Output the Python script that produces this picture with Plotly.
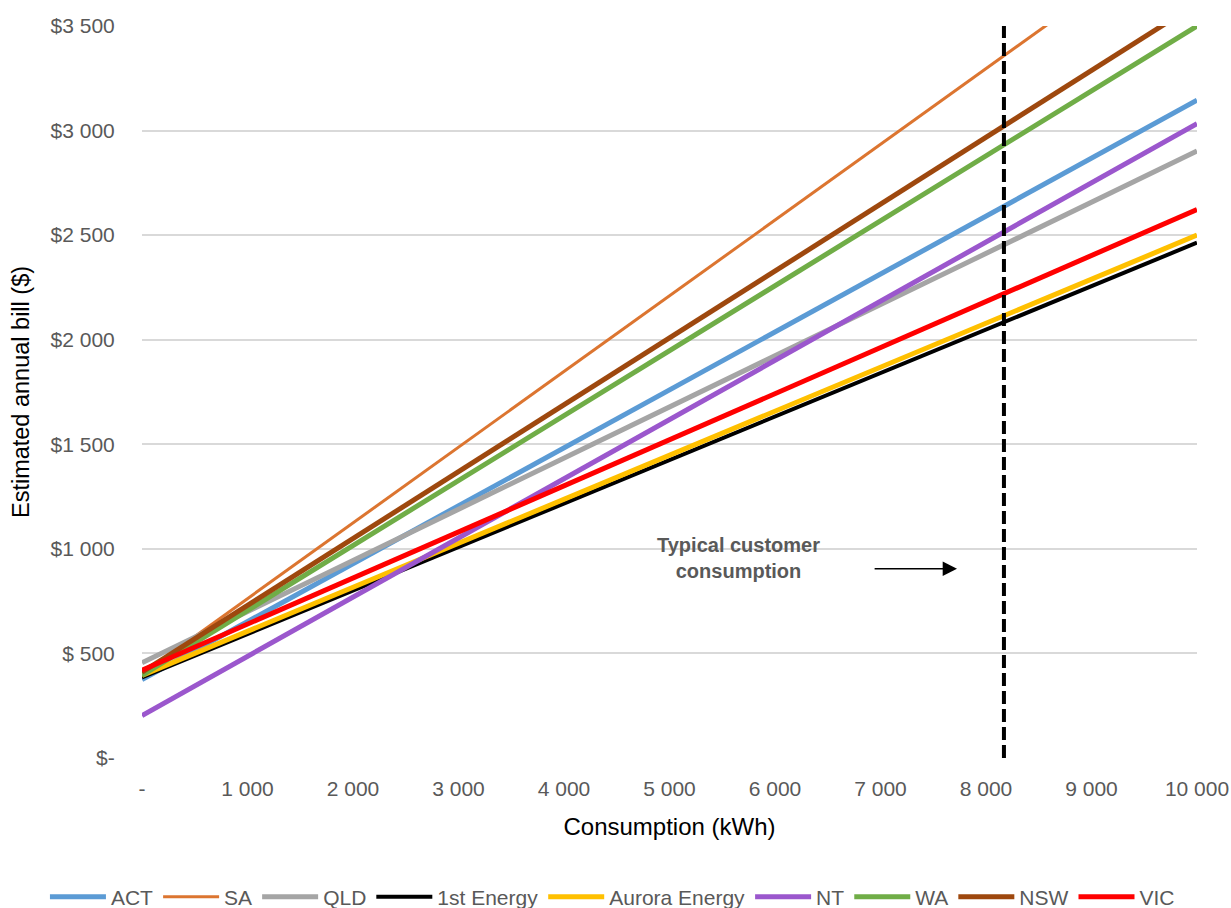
import plotly.graph_objects as go

# Data: estimated annual bill ($) at 0 and 10 000 kWh
consumption = [0, 10000]
series_names = ["ACT", "SA", "QLD", "1st Energy", "Aurora Energy", "NT", "WA", "NSW", "VIC"]
act = [375, 3145]
sa = [400, 4020]
qld = [455, 2902]
first_energy = [385, 2464]
aurora = [395, 2500]
nt = [203, 3033]
wa = [395, 3500]
nsw = [410, 3607]
vic = [420, 2623]

typical_consumption = 8170

x_tickvals = [0, 1000, 2000, 3000, 4000, 5000, 6000, 7000, 8000, 9000, 10000]
x_ticktext = ["-", "1 000", "2 000", "3 000", "4 000", "5 000", "6 000", "7 000", "8 000", "9 000", "10 000"]
y_tickvals = [0, 500, 1000, 1500, 2000, 2500, 3000, 3500]
y_ticktext = ["$-", "$ 500", "$1 000", "$1 500", "$2 000", "$2 500", "$3 000", "$3 500"]

values = [act, sa, qld, first_energy, aurora, nt, wa, nsw, vic]
colors = ["#5B9BD5", "#DC7530", "#A5A5A5", "#000000", "#FFC000", "#9B57CD", "#70AD47", "#9E480E", "#FF0000"]
widths = [5, 3, 5, 4, 5, 5, 5, 5, 5]

FONT = "Liberation Sans"
GREY = "#595959"

fig = go.Figure()
for name, vals, col, w in zip(series_names, values, colors, widths):
    fig.add_trace(go.Scatter(x=consumption, y=vals, mode="lines", name=name,
                             line=dict(color=col, width=w)))

# dashed vertical line
fig.add_trace(go.Scatter(x=[typical_consumption, typical_consumption], y=[0, 3515],
                         mode="lines", line=dict(color="black", width=4, dash="13px,5px"),
                         showlegend=False, hoverinfo="skip", cliponaxis=False))

fig.add_annotation(x=5650, y=958, text="<b>Typical customer<br>consumption</b>",
                   showarrow=False, font=dict(family=FONT, size=20, color=GREY),
                   align="center")
fig.add_annotation(x=7725, y=905, ax=6930, ay=905, axref="x", ayref="y",
                   showarrow=True, arrowhead=2, arrowsize=2.2, arrowwidth=1.3,
                   arrowcolor="black", text="")

fig.update_layout(
    width=1231, height=908,
    margin=dict(l=142, r=34, t=26, b=150, autoexpand=False),
    paper_bgcolor="white", plot_bgcolor="white",
    font=dict(family=FONT, color=GREY),
    legend=dict(orientation="h", x=-0.092, xanchor="left", y=-0.19, yanchor="middle",
                font=dict(family=FONT, size=21, color=GREY), itemwidth=56,
                traceorder="normal"),
    showlegend=True,
)
fig.update_xaxes(range=[0, 10000], tickvals=x_tickvals, ticktext=x_ticktext,
                 showgrid=False, zeroline=False, showline=False, automargin=False,
                 tickfont=dict(family=FONT, size=21, color=GREY),
                 ticks="outside", ticklen=12, tickcolor="rgba(0,0,0,0)",
                 title=dict(text="Consumption (kWh)", font=dict(family=FONT, size=24, color="black"),
                            standoff=18))
fig.update_yaxes(range=[0, 3500], tickvals=y_tickvals, ticktext=y_ticktext,
                 showgrid=True, gridcolor="#D9D9D9", gridwidth=1.5, zeroline=False, showline=False,
                 automargin=False,
                 tickfont=dict(family=FONT, size=21, color=GREY),
                 ticks="outside", ticklen=22, tickcolor="rgba(0,0,0,0)",
                 title=dict(text="Estimated annual bill ($)", font=dict(family=FONT, size=23.5, color="black"),
                            standoff=14))

fig.write_html("out.html")
